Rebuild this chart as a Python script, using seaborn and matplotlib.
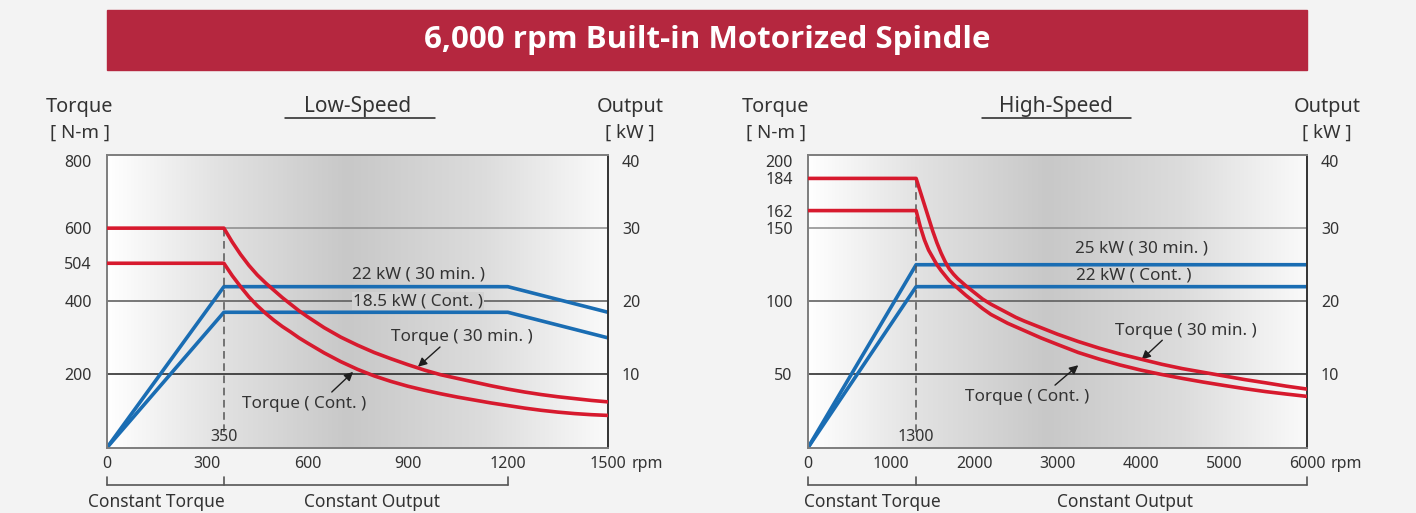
import numpy as np
import seaborn as sns
import matplotlib.pyplot as plt
import matplotlib.transforms as mtransforms
from matplotlib.colors import LinearSegmentedColormap
from matplotlib.patches import Rectangle
from matplotlib.lines import Line2D

# ---- Low-Speed winding ----
low_rpm = [0, 350, 375, 400, 425, 450, 475, 500, 525, 550, 575, 600, 650, 700,
           750, 800, 850, 900, 950, 1000, 1050, 1100, 1150, 1200, 1250, 1300,
           1350, 1400, 1450, 1500]
low_torque_30 = [600, 600, 562, 528, 498, 472, 450, 430, 410, 392, 374, 358, 328, 302,
                 280, 260, 243, 227, 212, 199, 189, 179, 169, 160, 152, 145,
                 139, 134, 129, 125]
low_torque_cont = [504, 504, 470, 440, 412, 388, 367, 348, 331, 316, 300, 286, 259, 235,
                   214, 196, 181, 168, 157, 147, 138, 130, 122, 115, 108, 102,
                   97, 93, 90, 88]
low_kw_rpm = [0, 350, 1200, 1500]
low_kw_30 = [0, 22, 22, 18.5]
low_kw_cont = [0, 18.5, 18.5, 15.0]
low_xticks = [0, 300, 600, 900, 1200, 1500]
low_yticks = [200, 400, 504, 600, 800]

# ---- High-Speed winding ----
high_rpm = [0, 1300, 1350, 1400, 1450, 1500, 1550, 1600, 1650, 1700, 1750, 1800,
            1900, 2000, 2100, 2200, 2300, 2400, 2500, 2600, 2800, 3000, 3250,
            3500, 3750, 4000, 4250, 4500, 4750, 5000, 5250, 5500, 5750, 6000]
high_torque_30 = [184, 184, 175, 166, 157, 148, 140, 133, 127, 122, 118.5, 115.5,
                  110.5, 106, 101.5, 98, 95, 92, 89, 86.5, 82, 77.5, 72.5,
                  68, 64, 60.5, 57, 54, 51.5, 49, 46.5, 44.3, 42, 40]
high_torque_cont = [162, 162, 151, 142, 135, 130, 125, 121, 117.5, 114, 111.5, 109,
                    104, 99.5, 95, 91, 88, 85, 82.5, 80, 75, 70.5, 65,
                    60.5, 56.5, 53, 50, 47.3, 44.8, 42.5, 40.3, 38.3, 36.6, 35]
high_kw_rpm = [0, 1300, 6000]
high_kw_30 = [0, 25, 25]
high_kw_cont = [0, 22, 22]
high_xticks = [0, 1000, 2000, 3000, 4000, 5000, 6000]
high_yticks = [50, 100, 150, 162, 184, 200]

kw_ticks = [10, 20, 30, 40]

RED = "#d71a2e"
BLUE = "#1a6db3"
TXT = "#333333"
W, H = 1416, 513

sns.set_style("white")
plt.rcParams["font.family"] = ["Noto Sans", "DejaVu Sans"]

fig = plt.figure(figsize=(W / 100, H / 100), dpi=100, facecolor="#f3f3f3")


def fx(px):
    return px / W


def fy(py):
    return 1 - py / H


bg = LinearSegmentedColormap.from_list(
    "bg", [(0, "#ffffff"), (0.22, "#e2e2e2"), (0.48, "#c8c8c8"),
           (0.75, "#dcdcdc"), (1, "#fafafa")])


def panel(left, width, rpm, t30, tcont, kw_rpm, kw30, kwcont, xticks, yticks,
          tmax, base, grid_t, texts, labels):
    ax = fig.add_axes([fx(left), fy(447.6), width / W, 292.6 / H])
    ax2 = ax.twinx()
    ax.set_zorder(2)
    ax2.set_zorder(1)
    ax.patch.set_visible(False)
    xmax = xticks[-1]

    # background gradient + grid on the kW axis
    ax2.imshow(np.linspace(0, 1, 256)[None, :], extent=[0, xmax, 0, 40],
               aspect="auto", cmap=bg, zorder=0)
    for g, c in zip([10, 20, 30], ["#1e1e1e", "#555555", "#8a8a8a"]):
        ax2.axhline(g, color=c, lw=1.1, zorder=1)

    sns.lineplot(x=kw_rpm, y=kw30, ax=ax2, color=BLUE, lw=2.6, sort=False,
                 estimator=None, zorder=3)
    sns.lineplot(x=kw_rpm, y=kwcont, ax=ax2, color=BLUE, lw=2.6, sort=False,
                 estimator=None, zorder=3)
    sns.lineplot(x=rpm, y=t30, ax=ax, color=RED, lw=2.6, sort=False,
                 estimator=None, zorder=4)
    sns.lineplot(x=rpm, y=tcont, ax=ax, color=RED, lw=2.6, sort=False,
                 estimator=None, zorder=4)

    # base speed marker
    ax.plot([base, base], [tmax * 0.055, grid_t], ls=(0, (5, 3)),
            color="#555555", lw=1.1, zorder=2)
    ax.annotate(str(base), xy=(base, 0), xytext=(0, 2), textcoords="offset points",
                ha="center", va="bottom", fontsize=11.5, color=TXT)

    ax.set_xlim(0, xmax)
    ax.set_ylim(0, tmax)
    ax2.set_ylim(0, 40)
    ax2.set_xlim(0, xmax)

    ax.set_xticks(xticks)
    ax.set_xticklabels([str(v) for v in xticks])
    ax.set_yticks(yticks)
    ax.set_yticklabels([str(v) for v in yticks])
    ax2.set_yticks(kw_ticks)
    ax2.set_yticklabels([str(v) for v in kw_ticks])
    ax.tick_params(axis="x", length=0, pad=6, labelsize=11.5, labelcolor=TXT)
    ax.tick_params(axis="y", length=0, pad=11, labelsize=11.5, labelcolor=TXT)
    ax2.tick_params(axis="y", length=0, pad=10, labelsize=11.5, labelcolor=TXT)
    # top labels sit just below the frame edge
    ax.get_yticklabels()[-1].set_verticalalignment("top")
    ax2.get_yticklabels()[-1].set_verticalalignment("top")
    ax.annotate("rpm", xy=(xmax, 0), xytext=(17, -11.5), textcoords="offset points",
                ha="left", va="center", fontsize=11.5, color=TXT)
    ax.set_xlabel("")
    ax.set_ylabel("")
    ax2.set_ylabel("")

    for s in ax2.spines.values():
        s.set_visible(False)
    for name, s in ax.spines.items():
        s.set_visible(True)
        s.set_color("#333333" if name == "right" else "#7d7d7d")
        s.set_linewidth(1.4)

    # in-plot labels
    kw30_text, kwc_text = texts
    (kw30_xy, kwc_xy, t30_xy, tc_xy, a30, ac, kwc_box) = labels
    kw = dict(ha="center", va="center", fontsize=12.3, color=TXT, zorder=5)
    ax2.text(*kw30_xy, kw30_text, **kw)
    if kwc_box:
        kw["bbox"] = dict(boxstyle="square,pad=0.05", fc=bg(kwc_xy[0] / xmax), ec="none")
    ax2.text(*kwc_xy, kwc_text, **kw)
    ax.text(*t30_xy, "Torque ( 30 min. )", ha="center", va="center",
            fontsize=12.3, color=TXT)
    ax.text(*tc_xy, "Torque ( Cont. )", ha="center", va="center",
            fontsize=12.3, color=TXT)
    for tail, tip in (a30, ac):
        ax.annotate("", xy=tip, xytext=tail,
                    arrowprops=dict(arrowstyle="-|>", color="#1e1e1e", lw=1.0,
                                    mutation_scale=13, shrinkA=0, shrinkB=0))
    return ax


ax_low = panel(107, 501, low_rpm, low_torque_30, low_torque_cont, low_kw_rpm,
               low_kw_30, low_kw_cont, low_xticks, low_yticks, 800, 350, 600,
               ("22 kW ( 30 min. )", "18.5 kW ( Cont. )"),
               ((934, 23.7), (931, 20.0), (1063, 302), (590, 118),
                ((997, 275), (931, 221)), ((673, 152), (737, 207)), True))
ax_high = panel(808, 499, high_rpm, high_torque_30, high_torque_cont, high_kw_rpm,
                high_kw_30, high_kw_cont, high_xticks, high_yticks, 200, 1300, 184,
                ("25 kW ( 30 min. )", "22 kW ( Cont. )"),
                ((4016, 27.2), (3920, 23.5), (4545, 79.7), (2639, 34.3),
                 ((4260, 73.4), (4012, 60.2)), ((2970, 42.7), (3250, 56.3)), False))

# title banner
fig.add_artist(Rectangle((fx(107), fy(70)), 1200 / W, 60 / H,
                         transform=fig.transFigure, color="#b5273f", zorder=0))
fig.text(fx(707), fy(40), "6,000 rpm Built-in Motorized Spindle", ha="center",
         va="center", color="white", fontsize=22.5, fontweight="bold",
         family=["Open Sans", "DejaVu Sans"])

# axis headers
for tx, ox, name, cx, (u0, u1) in ((80, 630, "Low-Speed", 358, (285, 435)),
                                   (776, 1327, "High-Speed", 1056, (982, 1131))):
    fig.text(fx(tx), fy(107), "Torque", ha="center", va="center", fontsize=14.3, color=TXT)
    fig.text(fx(tx), fy(133), "[ N-m ]", ha="center", va="center", fontsize=13.5, color=TXT)
    fig.text(fx(ox), fy(107), "Output", ha="center", va="center", fontsize=14.3, color=TXT)
    fig.text(fx(ox), fy(133), "[ kW ]", ha="center", va="center", fontsize=13.5, color=TXT)
    fig.text(fx(cx), fy(106.5), name, ha="center", va="center", fontsize=15, color=TXT)
    fig.add_artist(Line2D([fx(u0), fx(u1)], [fy(118), fy(118)], color="#222222",
                          lw=1.1, transform=fig.transFigure))

# constant torque / constant output brackets
for ax, base, end, ct_x, co_x in ((ax_low, 350, 1200, 147, 793),
                                  (ax_high, 1300, 6000, 770, 3812)):
    tr = mtransforms.blended_transform_factory(ax.transData, fig.transFigure)
    fig.add_artist(Line2D([0, end], [fy(485), fy(485)], color="#555555", lw=1.2,
                          transform=tr))
    for xv in (0, base, end):
        fig.add_artist(Line2D([xv, xv], [fy(485), fy(477)], color="#555555",
                              lw=1.2, transform=tr))
    fig.text(ct_x, fy(502), "Constant Torque", transform=tr, ha="center",
             va="center", fontsize=12.5, color=TXT)
    fig.text(co_x, fy(502), "Constant Output", transform=tr, ha="center",
             va="center", fontsize=12.5, color=TXT)

fig.savefig("out.png", dpi=100, facecolor=fig.get_facecolor())
